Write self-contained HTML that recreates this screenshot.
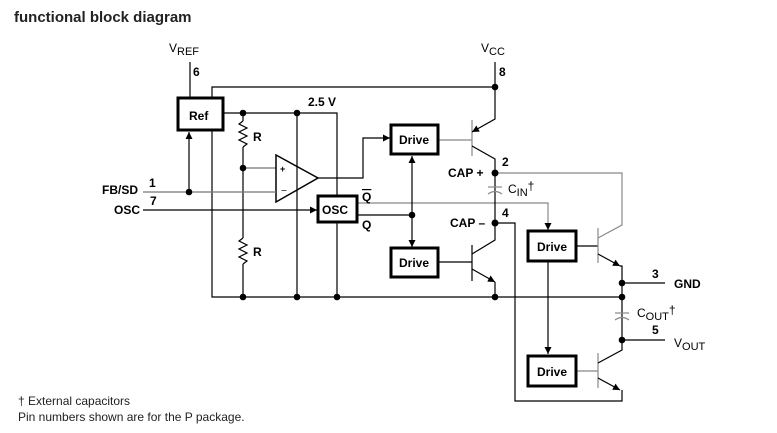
<!DOCTYPE html>
<html><head><meta charset="utf-8"><style>
body{margin:0;background:#fff;width:777px;height:433px;overflow:hidden}
svg{display:block;font-family:"Liberation Sans",Arial,sans-serif}
</style></head><body>
<svg width="777" height="433" viewBox="0 0 777 433">
<defs>
<marker id="a" viewBox="0 0 10 10" refX="10" refY="5" markerWidth="7" markerHeight="7" orient="auto-start-reverse" markerUnits="userSpaceOnUse"><path d="M0,0L10,5L0,10z" fill="#000"/></marker>
</defs>
<text x="14" y="22" font-size="15" font-weight="bold" fill="#222">functional block diagram</text>
<g fill="none" stroke="#000" stroke-width="1.2">
<line x1="190" y1="62" x2="190" y2="97"/>
<polyline points="212,131 212,87 495,87"/>
<line x1="495" y1="62" x2="495" y2="87"/>
<polyline points="212,131 212,297 623,297"/>
<polyline points="224,113 337,113 337,195"/>
<line x1="337" y1="223" x2="337" y2="297"/>
<line x1="243" y1="113" x2="243" y2="121"/>
<polyline points="243,121 239,124 247,128 239,132 247,136 239,140 247,144 243,147"/>
<line x1="243" y1="147" x2="243" y2="238"/>
<polyline points="243,238 239,241 247,245 239,249 247,253 239,257 247,261 243,264"/>
<line x1="243" y1="264" x2="243" y2="297"/>
<line x1="243" y1="168" x2="276" y2="168" stroke="#777"/>
<line x1="297" y1="113" x2="297" y2="297"/>
<polygon points="276,155 276,202 318,178" stroke-width="1.5"/>
<line x1="143" y1="192" x2="276" y2="192" stroke="#777"/>
<line x1="189" y1="192" x2="189" y2="132" marker-end="url(#a)"/>
<line x1="143" y1="210" x2="317" y2="210" marker-end="url(#a)"/>
<polyline points="318,178 363,178 363,138 390,138" marker-end="url(#a)"/>
<polyline points="358,203 548,203 548,230" stroke="#888" marker-end="url(#a)"/>
<line x1="358" y1="215" x2="412" y2="215"/>
<line x1="412" y1="156" x2="412" y2="247" marker-start="url(#a)" marker-end="url(#a)"/>
<line x1="439" y1="140" x2="472" y2="140" stroke="#888"/>
<line x1="472" y1="120" x2="472" y2="156" stroke="#888"/>
<polyline points="495,87 495,119 472,132" marker-end="url(#a)"/>
<polyline points="472,146 495,159 495,223"/>
<line x1="488" y1="187" x2="502" y2="187" stroke="#888"/>
<path d="M488,194 Q495,189 502,194" stroke="#888"/>
<polyline points="495,173 622,173 622,225 598,238" stroke="#888"/>
<polyline points="495,223 515,223 515,401 622,401 622,390"/>
<line x1="439" y1="262" x2="472" y2="262"/>
<line x1="472" y1="245" x2="472" y2="281"/>
<polyline points="495,223 495,240 472,254"/>
<polyline points="472,269 495,282" marker-end="url(#a)"/>
<line x1="495" y1="282" x2="495" y2="297"/>
<line x1="577" y1="246" x2="598" y2="246"/>
<line x1="598" y1="228" x2="598" y2="263" stroke="#888"/>
<polyline points="598,254 620,266" marker-end="url(#a)"/>
<polyline points="620,266 622,266 622,340"/>
<line x1="622" y1="283" x2="665" y2="283"/>
<line x1="548" y1="262" x2="548" y2="354" marker-end="url(#a)"/>
<line x1="615" y1="313" x2="629" y2="313" stroke="#888"/>
<path d="M615,320 Q622,315 629,320" stroke="#888"/>
<line x1="622" y1="340" x2="665" y2="340"/>
<line x1="577" y1="371" x2="598" y2="371" stroke="#888"/>
<line x1="598" y1="353" x2="598" y2="388" stroke="#888"/>
<polyline points="622,340 622,350 598,363"/>
<polyline points="598,378 620,390" marker-end="url(#a)"/>
</g>
<g fill="#fff" stroke="#000" stroke-width="3">
<rect x="178" y="98" width="45" height="32"/>
<rect x="318" y="196" width="39" height="26"/>
<rect x="391" y="125" width="47" height="29"/>
<rect x="391" y="248" width="47" height="29"/>
<rect x="528" y="231" width="48" height="30"/>
<rect x="528" y="356" width="48" height="30"/>
</g>
<g fill="#000">
<circle cx="243" cy="113" r="3.3"/><circle cx="297" cy="113" r="3.3"/>
<circle cx="243" cy="168" r="3.3"/><circle cx="189" cy="192" r="3.3"/>
<circle cx="243" cy="297" r="3.3"/><circle cx="297" cy="297" r="3.3"/><circle cx="337" cy="297" r="3.3"/>
<circle cx="495" cy="87" r="3.3"/><circle cx="495" cy="173" r="3.5"/><circle cx="495" cy="223" r="3.5"/>
<circle cx="412" cy="215" r="3.3"/><circle cx="495" cy="297" r="3.3"/>
<circle cx="622" cy="283" r="3.3"/><circle cx="622" cy="297" r="3.3"/><circle cx="622" cy="340" r="3.3"/>
</g>
<g font-size="12" fill="#000" font-weight="bold">
<text x="189" y="120">Ref</text>
<text x="322" y="214">OSC</text>
<text x="399" y="144">Drive</text>
<text x="399" y="267">Drive</text>
<text x="537" y="251">Drive</text>
<text x="537" y="376">Drive</text>
<text x="308" y="106">2.5 V</text>
<text x="193" y="76">6</text>
<text x="499" y="76">8</text>
<text x="102" y="194">FB/SD</text>
<text x="149" y="187">1</text>
<text x="150" y="205">7</text>
<text x="114" y="214">OSC</text>
<text x="448" y="177">CAP +</text>
<text x="502" y="166">2</text>
<text x="450" y="227">CAP –</text>
<text x="502" y="217">4</text>
<text x="652" y="278">3</text>
<text x="674" y="288">GND</text>
<text x="652" y="334">5</text>
<text x="253" y="141">R</text>
<text x="253" y="256">R</text>
<text x="362" y="201" text-decoration="overline">Q</text>
<text x="362" y="229">Q</text>
</g>
<g font-size="12" fill="#000">
<text x="169" y="52">V<tspan font-size="11" dy="3">REF</tspan></text>
<text x="481" y="52">V<tspan font-size="11" dy="3">CC</tspan></text>
<text x="280" y="172" font-size="9" font-weight="bold">+</text>
<text x="281" y="194" font-size="10">−</text>
<text x="508" y="193">C<tspan font-size="11" dy="3">IN</tspan><tspan dy="-6">†</tspan></text>
<text x="637" y="317">C<tspan font-size="11" dy="3">OUT</tspan><tspan dy="-6">†</tspan></text>
<text x="674" y="347">V<tspan font-size="11" dy="3">OUT</tspan></text>
</g>
<g font-size="12" fill="#222">
<text x="18" y="405">† External capacitors</text>
<text x="18" y="421">Pin numbers shown are for the P package.</text>
</g>
</svg>
</body></html>
